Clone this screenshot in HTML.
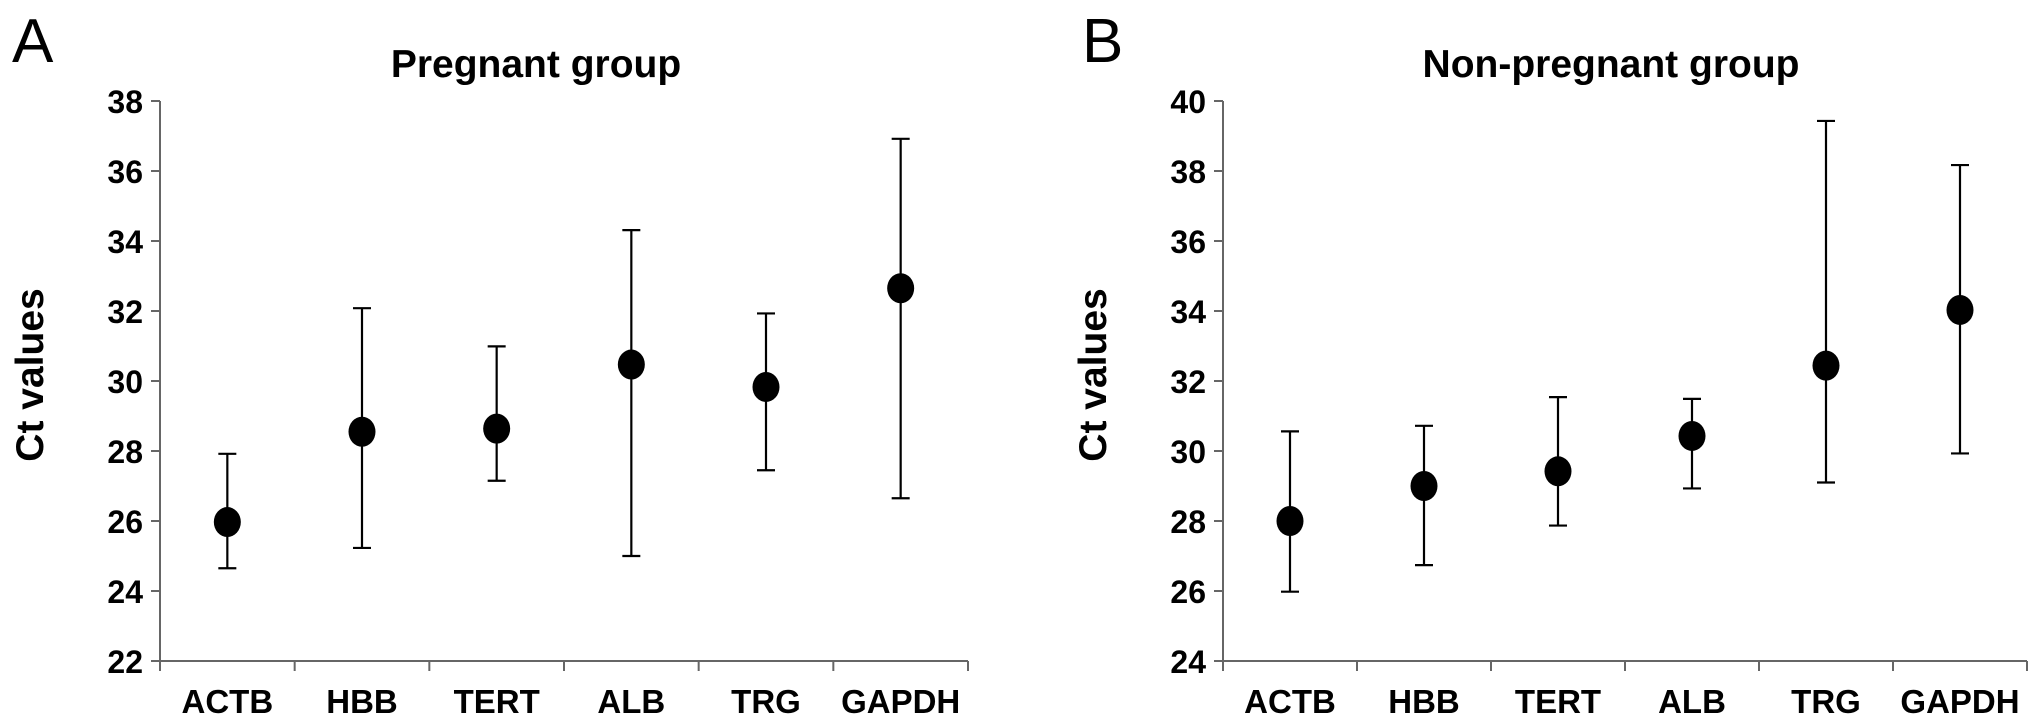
<!DOCTYPE html>
<html><head><meta charset="utf-8"><style>
html,body{margin:0;padding:0;background:#fff;}
svg{display:block;}
text{font-family:"Liberation Sans",Arial,sans-serif;fill:#000;}
</style></head><body>
<svg id="chart" width="2031" height="726" viewBox="0 0 2031 726" xmlns="http://www.w3.org/2000/svg">
<text x="12" y="62" font-size="62">A</text>
<text x="1082" y="62" font-size="62">B</text>
</svg>
<script>
const categories = ["ACTB","HBB","TERT","ALB","TRG","GAPDH"];
const pregMean = [25.97,28.55,28.64,30.47,29.83,32.65];
const pregHigh = [27.92,32.08,30.99,34.31,31.93,36.92];
const pregLow  = [24.65,25.23,27.15,25.00,27.45,26.65];
const nonMean = [28.00,29.00,29.42,30.43,32.44,34.03];
const nonHigh = [30.56,30.72,31.54,31.49,39.43,38.17];
const nonLow  = [25.98,26.74,27.87,28.93,29.10,29.93];
const pregTicks = [22,24,26,28,30,32,34,36,38];
const nonTicks = [24,26,28,30,32,34,36,38,40];

const svg = document.getElementById('chart');
const NS = 'http://www.w3.org/2000/svg';
function mk(tag, attrs, parent){
  const e = document.createElementNS(NS, tag);
  for (const k in attrs) e.setAttribute(k, attrs[k]);
  (parent||svg).appendChild(e);
  return e;
}
function panel(id, title, titleX, x0, x1, ymin, ymax, ticks, mean, hi, lo){
  const yTop = 101, yBot = 661;
  const g = mk('g', {});
  
  
  const ys = v => yBot - (v - ymin) / (ymax - ymin) * (yBot - yTop);
  const bw = (x1 - x0) / categories.length;
  const xs = i => x0 + bw * (i + 0.5);
  const t = mk('text', {x:titleX, y:77, 'font-size':39, 'font-weight':'bold', 'text-anchor':'middle'}, g);
  t.textContent = title;
  
  
  const yl = mk('text', {x:0, y:0, 'font-size':39, 'font-weight':'bold', 'text-anchor':'middle', transform:'translate('+(x0-117)+' 375) rotate(-90)'}, g);
  yl.textContent = 'Ct values';
  
  
  const ya = mk('line', {x1:x0, y1:yTop, x2:x0, y2:yBot, stroke:'#666', 'stroke-width':2}, g);
  
  
  const xa = mk('line', {x1:x0, y1:yBot, x2:x1, y2:yBot, stroke:'#666', 'stroke-width':2}, g);
  
  
  ticks.forEach(v => {
    const y = ys(v);
    mk('line', {x1:x0-9, y1:y, x2:x0, y2:y, stroke:'#666', 'stroke-width':2}, g);
    const tl = mk('text', {x:x0-17, y:y+12, 'font-size':32, 'font-weight':'bold', 'text-anchor':'end'}, g);
    tl.textContent = v;
    
    
  });
  for (let i = 0; i <= categories.length; i++){
    const x = x0 + bw * i;
    mk('line', {x1:x, y1:yBot, x2:x, y2:yBot+10, stroke:'#666', 'stroke-width':2}, g);
  }
  categories.forEach((c, i) => {
    const x = xs(i);
    const cl = mk('text', {x:x, y:713, 'font-size':33, 'font-weight':'bold', 'text-anchor':'middle'}, g);
    cl.textContent = c;
    
    
    const eb = mk('g', {stroke:'#000', 'stroke-width':2.2}, g);
    
    
    mk('line', {x1:x, y1:ys(hi[i]), x2:x, y2:ys(lo[i])}, eb);
    mk('line', {x1:x-9, y1:ys(hi[i]), x2:x+9, y2:ys(hi[i])}, eb);
    mk('line', {x1:x-9, y1:ys(lo[i]), x2:x+9, y2:ys(lo[i])}, eb);
    const p = mk('ellipse', {cx:x, cy:ys(mean[i]), rx:13.5, ry:15, fill:'#000'}, g);
    
    
  });
}
panel('pregnant', 'Pregnant group', 536, 160, 968, 22, 38, pregTicks, pregMean, pregHigh, pregLow);
panel('non-pregnant', 'Non-pregnant group', 1611, 1223, 2027, 24, 40, nonTicks, nonMean, nonHigh, nonLow);
</script>
</body></html>
